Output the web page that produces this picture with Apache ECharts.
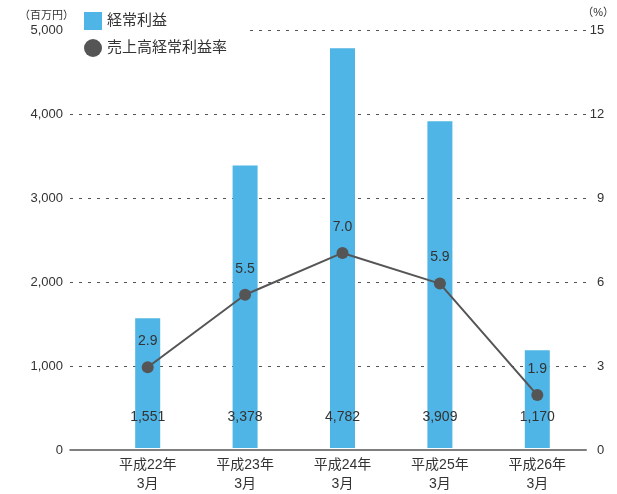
<!DOCTYPE html>
<html><head><meta charset="utf-8">
<script src="https://cdn.jsdelivr.net/npm/echarts@6/dist/echarts.min.js"></script>
<style>html,body{margin:0;padding:0;background:#fff}#c{width:617px;height:494px}</style>
</head><body><div id="c"></div>
<script>
const categories = ['平成22年\n3月','平成23年\n3月','平成24年\n3月','平成25年\n3月','平成26年\n3月'];
const profit = [1551, 3378, 4782, 3909, 1170];
const ratio = [2.9, 5.5, 7.0, 5.9, 1.9];
const leftTicks = {min:0, max:5000, interval:1000};
const rightTicks = {min:0, max:15, interval:3};

const FONT = '"Liberation Sans", "Noto Sans CJK JP", sans-serif';
const chart = echarts.init(document.getElementById('c'));
chart.setOption({
  animation:false,
  textStyle:{fontFamily:FONT},
  legend:{
    orient:'vertical', left:70, top:8, itemWidth:18, itemHeight:18, itemGap:9,
    padding:[4,22,4,14], backgroundColor:'#fff', z:10,
    textStyle:{fontSize:15, color:'#333', fontFamily:FONT},
    data:[{name:'経常利益', icon:'rect'},{name:'売上高経常利益率', icon:'circle', itemStyle:{color:'#555'}}]
  },
  grid:[
    {left:70, right:21, top:30, bottom:44},
    {left:99, right:31, top:30, bottom:44}
  ],
  xAxis:[
    {type:'value', gridIndex:0, min:0, max:1, show:true, z:20, axisLabel:{show:false}, axisTick:{show:false}, splitLine:{show:false},
     axisLine:{show:true, onZero:false, lineStyle:{color:'#555', width:1.5}}},
    {type:'category', gridIndex:1, data:categories, axisLine:{show:false}, axisTick:{show:false},
     axisLabel:{fontSize:14, color:'#333', lineHeight:19, margin:8, fontFamily:FONT}}
  ],
  yAxis:[
    {type:'value', gridIndex:0, min:leftTicks.min, max:leftTicks.max, interval:leftTicks.interval,
     axisLine:{show:false}, axisTick:{show:false},
     axisLabel:{fontSize:13, color:'#333', margin:7, formatter:v=>v.toLocaleString('en-US')},
     splitLine:{show:true, showMinLine:false, lineStyle:{color:'#555', type:[3,6], width:1}},
     name:'（百万円）', nameLocation:'end', nameGap:9,
     nameTextStyle:{fontSize:11, color:'#333', align:'right', padding:[0,-4,0,0]}},
    {type:'value', gridIndex:0, position:'right', min:rightTicks.min, max:rightTicks.max, interval:rightTicks.interval,
     axisLine:{show:false}, axisTick:{show:false},
     axisLabel:{fontSize:13, color:'#333', margin:18, align:'right'},
     splitLine:{show:false},
     name:'（%）', nameLocation:'end', nameGap:12,
     nameTextStyle:{fontSize:11, color:'#333', align:'left', padding:[0,0,0,-4]}},
    {type:'value', gridIndex:1, min:leftTicks.min, max:leftTicks.max, show:false},
    {type:'value', gridIndex:1, min:rightTicks.min, max:rightTicks.max, show:false}
  ],
  series:[
    {name:'経常利益', type:'bar', xAxisIndex:1, yAxisIndex:2, data:profit, barWidth:25,
     itemStyle:{color:'#4FB5E6'},
     label:{show:true, position:'insideBottom', distance:24, fontSize:14, color:'#333',
       formatter:p=>p.value.toLocaleString('en-US')}},
    {name:'売上高経常利益率', type:'line', xAxisIndex:1, yAxisIndex:3, data:ratio,
     symbol:'circle', symbolSize:12, z:5,
     lineStyle:{color:'#555', width:2}, itemStyle:{color:'#555'},
     label:{show:true, position:'top', distance:13, fontSize:14, color:'#333',
       formatter:p=>p.value.toFixed(1)}}
  ]
});
</script></body></html>
